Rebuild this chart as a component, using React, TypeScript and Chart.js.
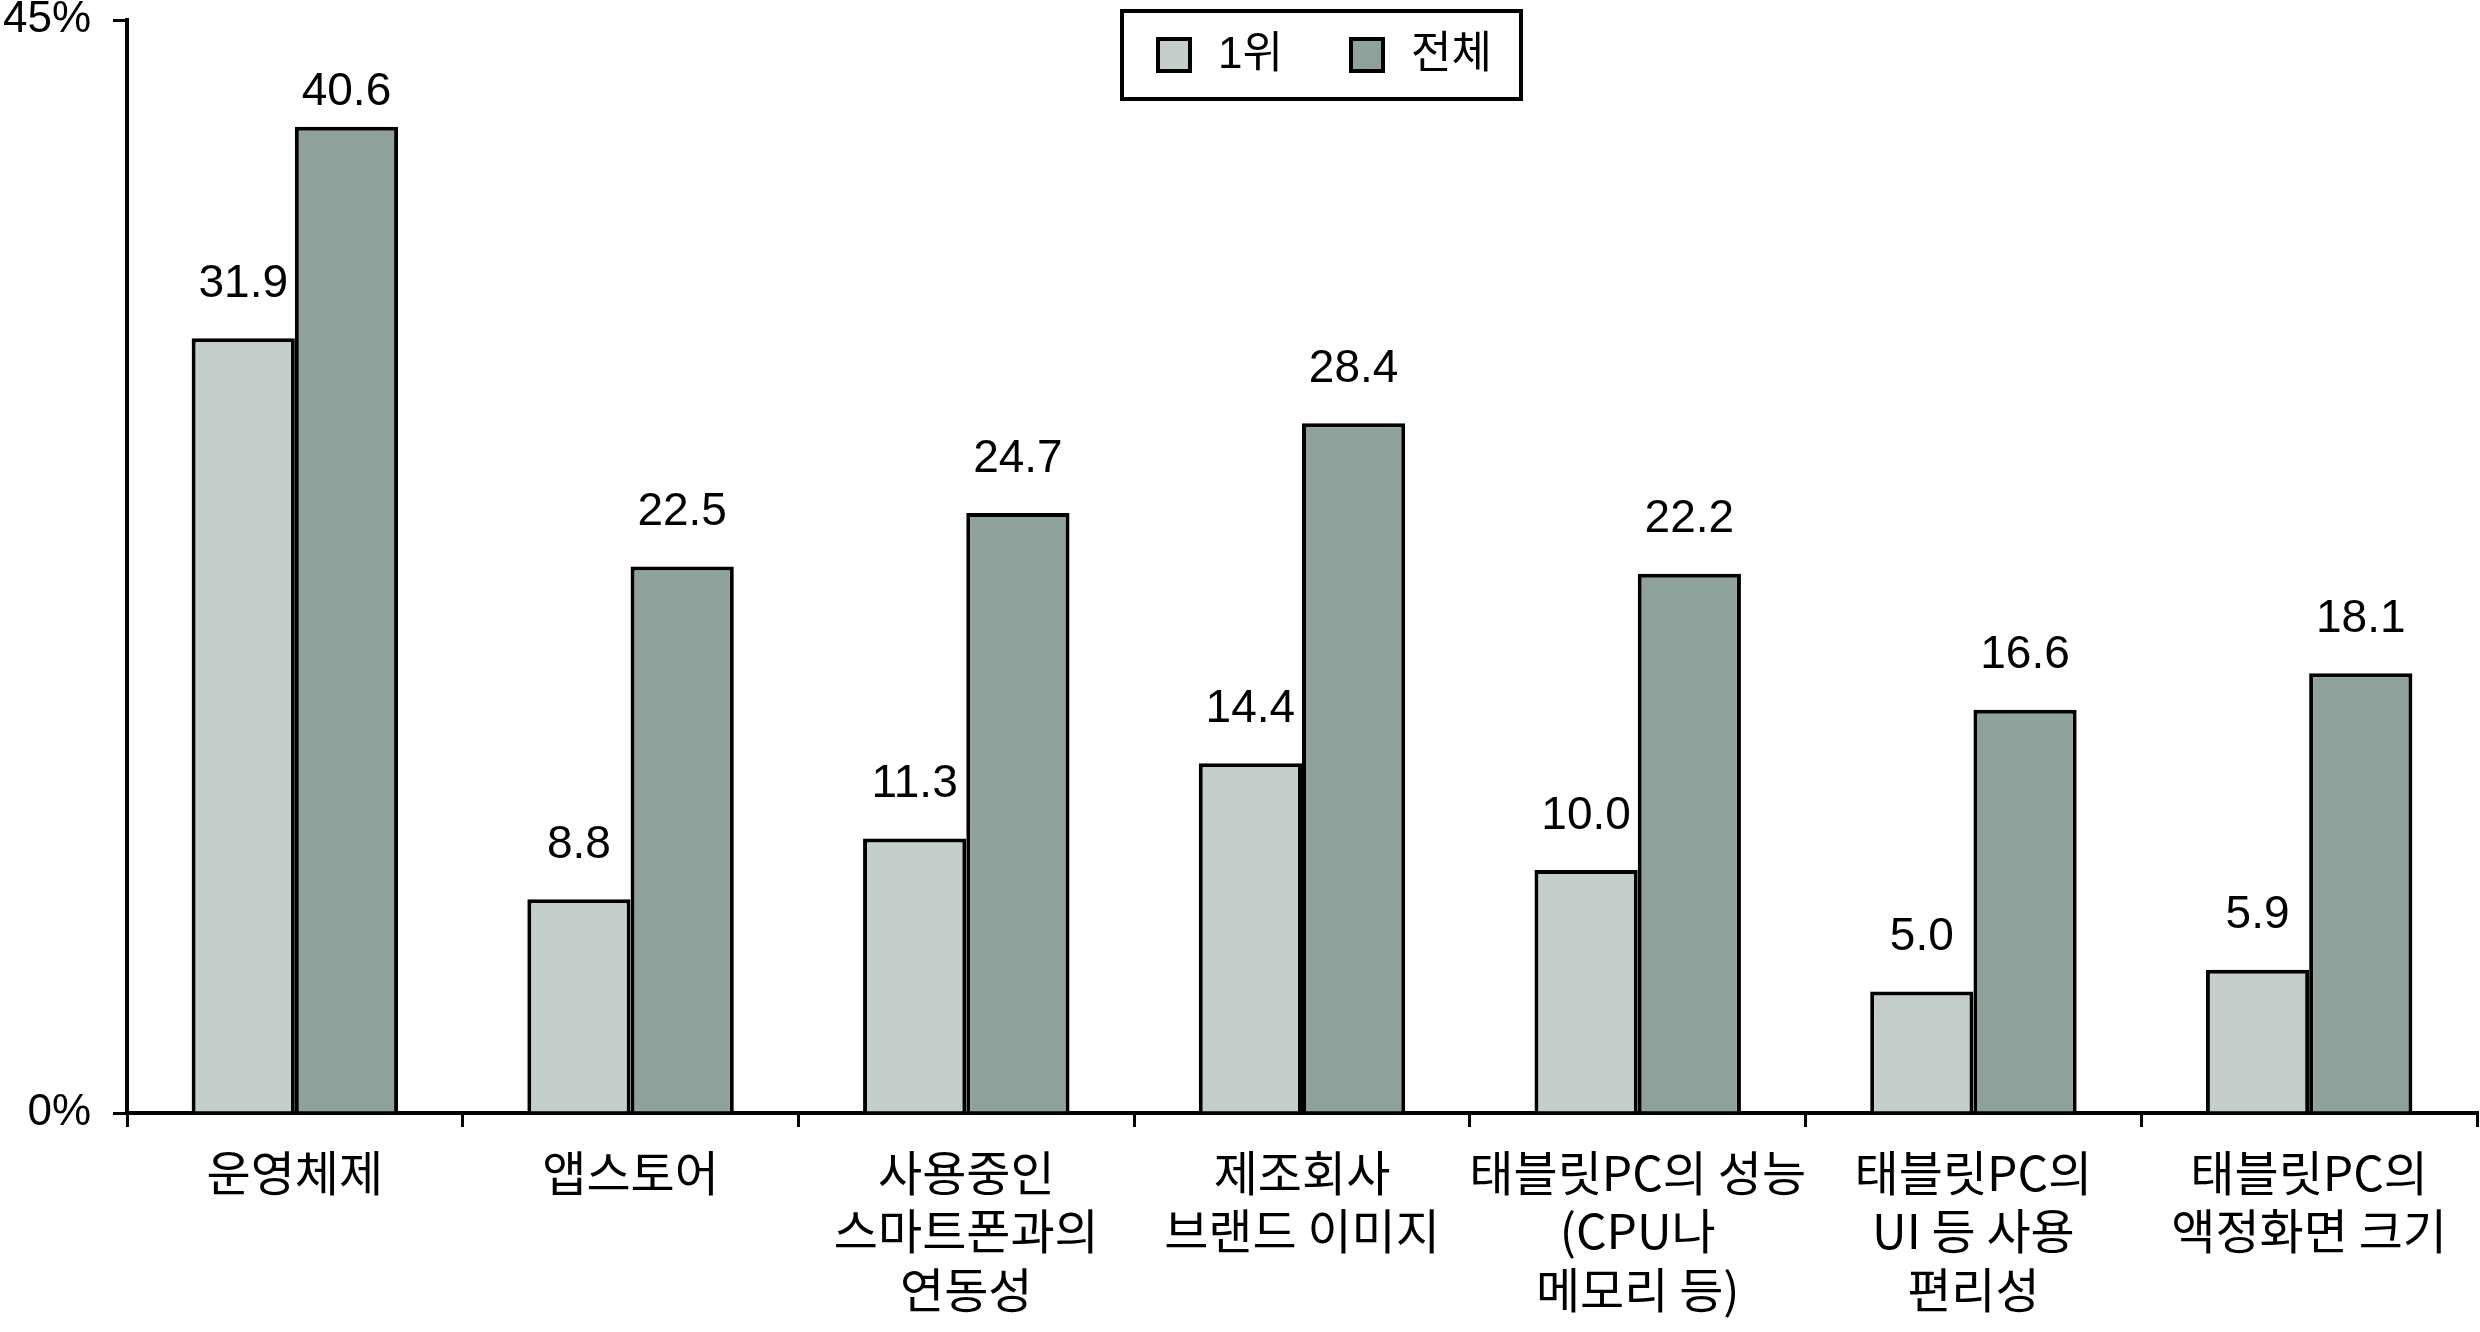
import { useEffect, useRef } from 'react';
import { Chart, registerables } from 'chart.js';

Chart.register(...registerables);

// ---- data ----
const categories: (string | string[])[] = [
  '운영체제',
  '앱스토어',
  ['사용중인', '스마트폰과의', '연동성'],
  ['제조회사', '브랜드 이미지'],
  ['태블릿PC의 성능', '(CPU나', '메모리 등)'],
  ['태블릿PC의', 'UI 등 사용', '편리성'],
  ['태블릿PC의', '액정화면 크기'],
];
const seriesNames = ['1위', '전체'];
const firstRank = [31.9, 8.8, 11.3, 14.4, 10.0, 5.0, 5.9];
const overall = [40.6, 22.5, 24.7, 28.4, 22.2, 16.6, 18.1];
const yTicks = [0, 45];
const yTickSuffix = '%';

// ---- styles ----
const LATIN = "'Liberation Sans', 'Noto Sans CJK KR', sans-serif";
const KFONT = "'Noto Sans CJK KR', 'Liberation Sans', sans-serif";
const seriesColors = ['#C4CFCD', '#8EA19D'];

const W = 2480;
const H = 1332;

const valueLabelPlugin = {
  id: 'valueLabels',
  afterDatasetsDraw(chart: any) {
    const { ctx, chartArea } = chart;
    ctx.save();
    ctx.font = `46px ${LATIN}`;
    ctx.fillStyle = '#000';
    ctx.textAlign = 'center';
    ctx.textBaseline = 'middle';
    chart.data.datasets.forEach((ds: any, i: number) => {
      const meta = chart.getDatasetMeta(i);
      meta.data.forEach((el: any, j: number) => {
        const v = ds.data[j] as number;
        const y = Math.max(el.y - 54, chartArea.top + 72);
        ctx.fillText(v.toFixed(1), el.x, y);
      });
    });
    ctx.restore();
  },
};

const boxedLegendPlugin = {
  id: 'boxedLegend',
  afterDraw(chart: any) {
    const { ctx } = chart;
    const box = { left: 1122, top: 11, width: 399, height: 88 };
    const swatch = 32;
    const itemX = [1158, 1351];
    const textGap = 28;
    const cy = box.top + box.height / 2;
    ctx.save();
    ctx.fillStyle = '#fff';
    ctx.fillRect(box.left, box.top, box.width, box.height);
    ctx.lineWidth = 4;
    ctx.strokeStyle = '#000';
    ctx.strokeRect(box.left, box.top, box.width, box.height);
    chart.data.datasets.forEach((ds: any, i: number) => {
      const x = itemX[i];
      ctx.fillStyle = ds.backgroundColor;
      ctx.fillRect(x, cy - swatch / 2, swatch, swatch);
      ctx.lineWidth = 4;
      ctx.strokeStyle = '#000';
      ctx.strokeRect(x, cy - swatch / 2, swatch, swatch);
      ctx.fillStyle = '#000';
      ctx.font = `44px ${LATIN}`;
      ctx.textAlign = 'left';
      ctx.textBaseline = 'middle';
      ctx.fillText(ds.label, x + swatch + textGap, cy + 1);
    });
    ctx.restore();
  },
};

export default function App() {
  const canvasRef = useRef<HTMLCanvasElement | null>(null);

  useEffect(() => {
    document.body.style.margin = '0';
    const canvas = canvasRef.current;
    if (!canvas) return;
    const chart = new Chart(canvas, {
      type: 'bar',
      data: {
        labels: categories,
        datasets: [
          {
            label: seriesNames[0],
            data: firstRank,
            backgroundColor: seriesColors[0],
            borderColor: '#000',
            borderWidth: 4,
          },
          {
            label: seriesNames[1],
            data: overall,
            backgroundColor: seriesColors[1],
            borderColor: '#000',
            borderWidth: 4,
          },
        ],
      },
      options: {
        responsive: false,
        animation: false,
        devicePixelRatio: 1,
        layout: { padding: { top: 20, right: 3, left: 0, bottom: 0 } },
        datasets: {
          bar: { categoryPercentage: 0.615, barPercentage: 1.0 },
        },
        plugins: {
          legend: { display: false },
          tooltip: { enabled: false },
          title: { display: false },
        },
        scales: {
          x: {
            offset: true,
            grid: {
              display: true,
              offset: true,
              drawOnChartArea: false,
              drawTicks: true,
              tickLength: 14,
              lineWidth: 3,
              color: '#000',
            },
            border: { display: true, color: '#000', width: 4 },
            ticks: {
              color: '#000',
              font: { family: KFONT, size: 48, lineHeight: 1.22 },
              padding: 16,
              autoSkip: false,
              maxRotation: 0,
              minRotation: 0,
            },
            afterFit: (s: any) => {
              s.height = 219;
              s.paddingLeft = 0;
              s.paddingRight = 0;
            },
          },
          y: {
            min: yTicks[0],
            max: yTicks[yTicks.length - 1],
            afterBuildTicks: (s: any) => {
              s.ticks = yTicks.map((v) => ({ value: v }));
            },
            grid: {
              display: true,
              drawOnChartArea: false,
              drawTicks: true,
              tickLength: 14,
              lineWidth: 3,
              color: '#000',
            },
            border: { display: true, color: '#000', width: 4 },
            ticks: {
              color: '#000',
              font: { family: LATIN, size: 44 },
              padding: 22,
              callback: (v: any) => `${v}${yTickSuffix}`,
            },
            afterFit: (s: any) => {
              s.width = 127;
              s.paddingTop = 0;
              s.paddingBottom = 0;
            },
          },
        },
      },
      plugins: [valueLabelPlugin, boxedLegendPlugin],
    });
    return () => chart.destroy();
  }, []);

  return (
    <div style={{ width: W, height: H }}>
      <canvas ref={canvasRef} width={W} height={H} style={{ display: 'block', width: W, height: H }} />
    </div>
  );
}
